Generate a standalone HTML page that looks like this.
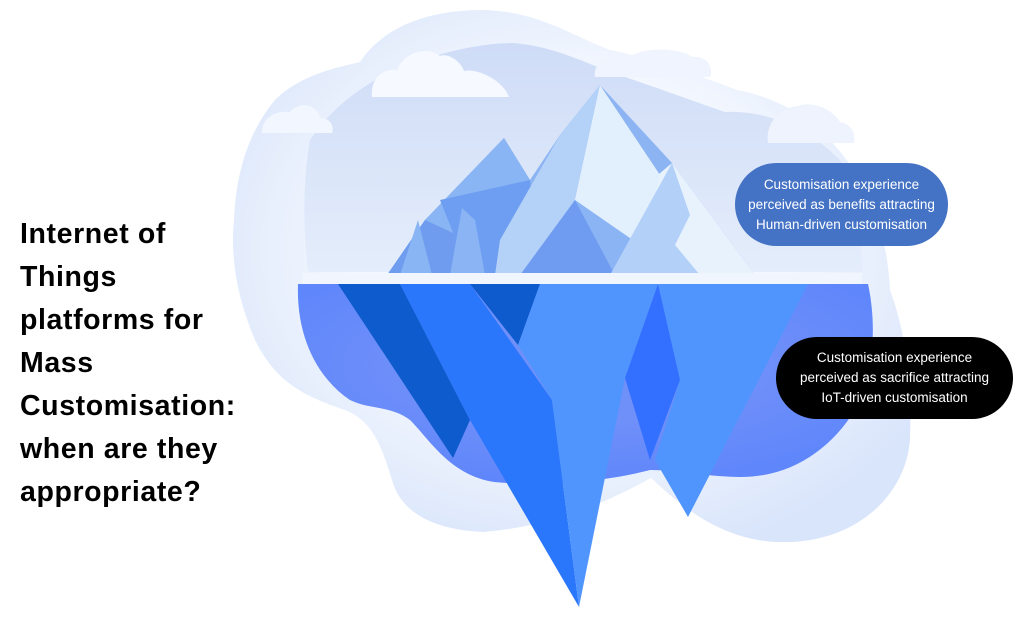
<!DOCTYPE html>
<html><head><meta charset="utf-8"><style>
html,body{margin:0;padding:0;background:#fff;}
body{width:1020px;height:628px;position:relative;overflow:hidden;font-family:"Liberation Sans",sans-serif;}
.title{position:absolute;left:20px;top:213px;font-weight:bold;font-size:28.5px;line-height:43px;color:#000;letter-spacing:0.6px;}
.box{position:absolute;border-radius:42px;color:#fff;font-size:13.5px;line-height:20px;text-align:center;display:flex;align-items:center;justify-content:center;font-family:"Liberation Sans Narrow","Liberation Sans",sans-serif;}
</style></head><body>
<svg width="1020" height="628" style="position:absolute;left:0;top:0">
<defs>
<radialGradient id="halo" cx="0.5" cy="0.45" r="0.6"><stop offset="0.55" stop-color="#f3f7fe"/><stop offset="1" stop-color="#d9e5fb"/></radialGradient>
<linearGradient id="sky" x1="0" y1="0" x2="0" y2="1"><stop offset="0" stop-color="#cfdcf7"/><stop offset="1" stop-color="#e4edfb"/></linearGradient>
<radialGradient id="deep" cx="0.5" cy="0.4" r="0.6"><stop offset="0.5" stop-color="#6f8ff9"/><stop offset="1" stop-color="#5f86fb"/></radialGradient>
</defs>
<!-- outer halo cloud -->
<path d="M275,100 C300,75 335,68 360,62 C385,25 430,10 484,10 C540,12 570,35 610,50 C650,58 690,72 737,90 C790,100 830,130 860,180 C880,220 888,250 890,290 C905,330 912,380 910,440 C905,500 850,545 778,542 C720,540 680,505 651,478 C610,500 560,525 484,532 C430,530 400,510 392,480 C380,440 370,420 345,410 C300,395 275,380 255,340 C238,300 230,260 234,220 C236,170 250,130 275,100 Z" fill="url(#halo)"/>
<!-- sky -->
<path d="M308,272 C302,220 304,175 310,140 C330,110 360,85 400,68 C440,52 480,43 514,43 C550,46 580,60 610,72 C650,85 690,100 725,112 C770,110 810,130 840,160 C858,200 862,240 862,272 Z" fill="url(#sky)"/>
<!-- small clouds -->
<path d="M372,97 C370,80 382,68 397,70 C404,52 427,46 440,56 C447,53 460,60 464,71 C477,68 503,80 509,97 Z" fill="#f6f9ff"/>
<path d="M595,77 C592,62 612,52 632,55 C652,46 682,49 692,57 C707,55 714,68 710,77 Z" fill="#eff4fe"/>
<path d="M262,133 C262,118 275,110 290,112 C300,100 318,105 320,118 C332,118 334,128 332,133 Z" fill="#f2f6fe"/>
<path d="M768,143 C765,125 778,108 798,106 C813,100 833,110 840,122 C852,124 856,135 854,143 Z" fill="#eef3fd"/>
<!-- mountains -->
<polygon points="387,275 425,220 504,138 530,180 560,135 600,85 672,163 755,275" fill="#8cb4f3"/>
<polygon points="425,220 504,138 530,180 470,275 387,275" fill="#8ab5f4"/>
<polygon points="425,220 490,250 500,275 387,275" fill="#6f9cef"/>
<polygon points="530,180 440,200 470,275 540,275" fill="#6e9ef2"/>
<polygon points="500,240 560,135 600,85 575,200 540,275 495,275" fill="#b4d1f8"/>
<polygon points="600,85 640,190 672,163 755,275 700,275 575,200" fill="#e8f2fd"/>
<polygon points="600,85 575,200 640,260 660,175" fill="#e2effd"/>
<polygon points="575,200 615,275 520,275" fill="#6f9cf0"/>
<polygon points="575,200 615,275 655,275 640,245" fill="#8ab4f3"/>
<polygon points="610,275 672,163 690,215 675,245 700,275" fill="#b3d0f8"/>
<polygon points="418,220 432,275 400,275" fill="#8ab5f4"/>
<polygon points="462,208 475,220 485,275 450,275" fill="#8ab4f3"/>
<!-- waterline -->
<rect x="302" y="273" width="560" height="11" fill="#f1f6fe"/>
<!-- underwater blob -->
<path d="M298,284 L868,284 C878,330 872,380 855,410 C830,450 790,478 738,477 C700,476 680,470 650,470 C620,478 560,488 494,482 C450,475 430,440 410,420 C390,405 370,410 350,400 C320,380 296,340 298,284 Z" fill="url(#deep)"/>
<!-- underwater shards -->
<polygon points="338,284 400,284 470,420 453,458" fill="#0d5bcc"/>
<polygon points="400,284 470,284 552,400 579,607 470,420" fill="#2b77fc"/>
<polygon points="470,284 540,284 518,345" fill="#0d5bcc"/>
<polygon points="540,284 658,284 625,378 579,607 552,400 518,345" fill="#5095fe"/>
<polygon points="658,284 808,284 688,517 655,460 680,380" fill="#5095fe"/>
<polygon points="658,284 680,380 650,460 625,378" fill="#3470ff"/>
</svg>
<div class="title">Internet of<br>Things<br>platforms for<br>Mass<br>Customisation:<br>when are they<br>appropriate?</div>
<div class="box" style="left:735px;top:163px;width:213px;height:83px;background:#4472c4;">Customisation experience<br>perceived as benefits attracting<br>Human-driven customisation</div>
<div class="box" style="left:776px;top:337px;width:237px;height:82px;background:#000;">Customisation experience<br>perceived as sacrifice attracting<br>IoT-driven customisation</div>
</body></html>
